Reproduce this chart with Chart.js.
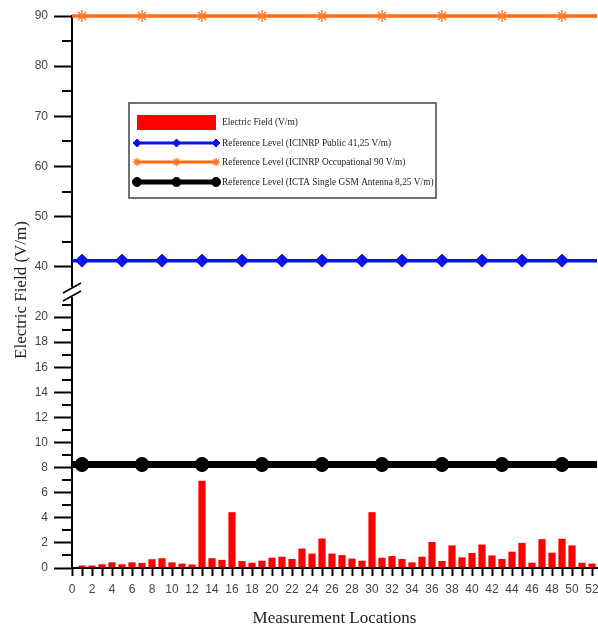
<!DOCTYPE html>
<html>
<head>
<meta charset="utf-8">
<script src="https://cdn.jsdelivr.net/npm/chart.js@4.4.0/dist/chart.umd.min.js"></script>
<style>
html, body { margin: 0; padding: 0; background: #fff; }
canvas { display: block; }
</style>
</head>
<body>
<canvas id="myChart" width="598" height="633"></canvas>
<script>
// measurement locations (x) and measured field strength (V/m)
var locations = [1, 2, 3, 4, 5, 6, 7, 8, 9, 10, 11, 12, 13, 14, 15, 16, 17, 18, 19, 20, 21, 22, 23, 24, 25, 26,
    27, 28, 29, 30, 31, 32, 33, 34, 35, 36, 37, 38, 39, 40, 41, 42, 43, 44, 45, 46, 47, 48, 49, 50, 51, 52];
var fieldValues = [0.2, 0.2, 0.3, 0.45, 0.3, 0.45, 0.4, 0.7, 0.78, 0.45, 0.35, 0.28, 6.95, 0.78, 0.65, 4.45,
    0.55, 0.42, 0.58, 0.82, 0.9, 0.72, 1.55, 1.15, 2.35, 1.15, 1.03, 0.75, 0.58, 4.45, 0.82, 0.95, 0.72, 0.45,
    0.9, 2.07, 0.56, 1.8, 0.85, 1.2, 1.87, 1.0, 0.72, 1.3, 2.0, 0.42, 2.3, 1.22, 2.33, 1.8, 0.42, 0.35];

// reference levels
var publicLevel = 41.25;
var occupationalLevel = 90;
var gsmLevel = 8.25;

// where the symbols sit on each reference line
var publicMarks = [1, 5, 9, 13, 17, 21, 25, 29, 33, 37, 41, 45, 49];
var occupationalMarks = [1, 7, 13, 19, 25, 31, 37, 43, 49];
var gsmMarks = [1, 7, 13, 19, 25, 31, 37, 43, 49];

// axis ranges (broken y axis: lower and upper part)
var xMin = 0, xMax = 52.5;
var lowerMin = 0, lowerMax = 22, lowerLastLabel = 20;
var upperMin = 35, upperMax = 90;
var lowerMinorTicks = [1, 3, 5, 7, 9, 11, 13, 15, 17, 19, 21];
var upperMinorTicks = [45, 55, 65, 75, 85];

var labelFont = { family: "'Liberation Sans', Arial, sans-serif", size: 12 };
var serif = "'Liberation Serif', 'Times New Roman', serif";

function levelLine(level, marks) {
    var pts = [{ x: xMin, y: level }];
    marks.forEach(function (m) { pts.push({ x: m, y: level }); });
    pts.push({ x: xMax, y: level });
    return pts;
}
function markRadius(marks, r) {
    return function (c) {
        return (c.raw && marks.indexOf(c.raw.x) >= 0) ? r : 0;
    };
}

var barData = locations.map(function (x, i) { return { x: x, y: fieldValues[i] }; });

// legend box drawn inside the plot, like the original figure
var boxLegend = {
    id: 'boxLegend',
    afterDraw: function (chart) {
        var c = chart.ctx;
        var ds = chart.data.datasets;
        var left = 129, top = 103, w = 307, h = 95;
        c.save();
        c.fillStyle = '#fff';
        c.fillRect(left, top, w, h);
        c.strokeStyle = '#444';
        c.lineWidth = 1.5;
        c.strokeRect(left, top, w, h);
        var rows = [122, 143, 162, 182];
        var x0 = 137, x1 = 216;
        ds.forEach(function (d, i) {
            var y = rows[i];
            if (d.type === 'line') {
                c.strokeStyle = d.borderColor;
                c.lineWidth = d.legendWidth;
                c.beginPath();
                c.moveTo(x0, y);
                c.lineTo(x1, y);
                c.stroke();
                c.fillStyle = d.pointBackgroundColor;
                c.strokeStyle = d.pointBorderColor;
                c.lineWidth = d.pointBorderWidth;
                [x0, (x0 + x1) / 2, x1].forEach(function (px) {
                    Chart.helpers.drawPoint(c, {
                        pointStyle: d.pointStyle,
                        radius: d.legendRadius,
                        borderWidth: d.pointBorderWidth,
                        rotation: 0
                    }, px, y);
                });
            } else {
                c.fillStyle = d.backgroundColor;
                c.fillRect(x0, y - 7, x1 - x0, 15);
            }
            c.fillStyle = '#222';
            c.font = '10.5px ' + serif;
            c.textBaseline = 'middle';
            c.textAlign = 'left';
            c.save();
            c.translate(222, y);
            c.scale(0.89, 1);
            c.fillText(d.label, 0, 0);
            c.restore();
        });
        c.restore();
    }
};

// minor ticks, axis break and y title
var axisExtras = {
    id: 'axisExtras',
    afterDraw: function (chart) {
        var c = chart.ctx;
        var lo = chart.scales.y, hi = chart.scales.y2;
        var ax = chart.chartArea.left;
        c.save();
        c.strokeStyle = '#000';
        c.lineWidth = 2;
        function minor(scale, vals) {
            vals.forEach(function (v) {
                var py = Math.round(scale.getPixelForValue(v));
                c.beginPath();
                c.moveTo(ax - 10, py);
                c.lineTo(ax, py);
                c.stroke();
            });
        }
        minor(lo, lowerMinorTicks);
        minor(hi, upperMinorTicks);

        // break mark
        var by = lo.top;
        c.fillStyle = '#fff';
        c.fillRect(ax - 4, by - 5, 8, 10);
        c.lineWidth = 1.6;
        c.beginPath();
        c.moveTo(ax - 9, by + 1);
        c.lineTo(ax + 9, by - 9);
        c.moveTo(ax - 9, by + 9);
        c.lineTo(ax + 9, by - 1);
        c.stroke();

        // y title
        c.fillStyle = '#222';
        c.font = '17px ' + serif;
        c.textAlign = 'center';
        c.textBaseline = 'middle';
        c.translate(22, 290);
        c.rotate(-Math.PI / 2);
        c.fillText('Electric Field (V/m)', 0, 0);
        c.restore();
    }
};

var ctxx = document.getElementById('myChart');
var myChartt = new Chart(ctxx, {
    type: 'bar',
    data: {
        datasets: [{
            type: 'bar',
            label: 'Electric Field (V/m)',
            data: barData,
            yAxisID: 'y',
            backgroundColor: '#ff0000',
            borderWidth: 0,
            barPercentage: 0.72,
            categoryPercentage: 1,
            order: 2
        }, {
            type: 'line',
            label: 'Reference Level (ICINRP Public 41,25 V/m)',
            data: levelLine(publicLevel, publicMarks),
            yAxisID: 'y2',
            borderColor: '#0a14e6',
            borderWidth: 3.5,
            legendWidth: 3,
            pointStyle: 'rectRot',
            pointRadius: markRadius(publicMarks, 6.5),
            legendRadius: 4,
            pointBackgroundColor: '#0a14e6',
            pointBorderColor: '#0a14e6',
            pointBorderWidth: 1,
            clip: false,
            order: 1
        }, {
            type: 'line',
            label: 'Reference Level (ICINRP Occupational 90 V/m)',
            data: levelLine(occupationalLevel, occupationalMarks),
            yAxisID: 'y2',
            borderColor: '#ff6a10',
            borderWidth: 3.5,
            legendWidth: 3,
            pointStyle: 'star',
            pointRadius: markRadius(occupationalMarks, 6),
            legendRadius: 4,
            pointBackgroundColor: '#ff6a10',
            pointBorderColor: '#ff7a28',
            pointBorderWidth: 1.5,
            clip: false,
            order: 1
        }, {
            type: 'line',
            label: 'Reference Level (ICTA Single GSM Antenna 8,25 V/m)',
            data: levelLine(gsmLevel, gsmMarks),
            yAxisID: 'y',
            borderColor: '#000',
            borderWidth: 7,
            legendWidth: 5,
            pointStyle: 'circle',
            pointRadius: markRadius(gsmMarks, 7),
            legendRadius: 4.5,
            pointBackgroundColor: '#000',
            pointBorderColor: '#000',
            pointBorderWidth: 1,
            clip: false,
            order: 1
        }]
    },
    options: {
        responsive: false,
        animation: false,
        layout: { padding: { top: 16, right: 1, left: 0, bottom: 0 } },
        plugins: {
            legend: { display: false },
            tooltip: { enabled: false }
        },
        scales: {
            x: {
                type: 'linear',
                min: xMin,
                max: xMax,
                offset: false,
                grid: { drawOnChartArea: false, offset: false, tickLength: 8, tickWidth: 2, tickColor: '#000' },
                border: { color: '#000', width: 2 },
                ticks: {
                    stepSize: 1,
                    autoSkip: false,
                    maxRotation: 0,
                    includeBounds: false,
                    padding: 6,
                    color: '#444',
                    font: labelFont,
                    callback: function (v) { return v % 2 === 0 ? v : ''; }
                },
                title: {
                    display: true,
                    text: 'Measurement Locations',
                    color: '#222',
                    font: { family: serif, size: 17 },
                    padding: { top: 4, bottom: 4 }
                },
                afterFit: function (s) { s.height = 65; s.paddingLeft = 0; s.paddingRight = 0; }
            },
            y: {
                type: 'linear',
                position: 'left',
                stack: 'field',
                stackWeight: 1,
                min: lowerMin,
                max: lowerMax,
                grid: { drawOnChartArea: false, tickLength: 18, tickWidth: 2, tickColor: '#000' },
                border: { color: '#000', width: 2 },
                ticks: { stepSize: 2, autoSkip: false, includeBounds: false, padding: 6, color: '#444', font: labelFont },
                afterBuildTicks: function (s) {
                    s.ticks = s.ticks.filter(function (t) { return t.value <= lowerLastLabel; });
                },
                afterFit: function (s) { s.width = 72; }
            },
            y2: {
                type: 'linear',
                position: 'left',
                stack: 'field',
                stackWeight: 1,
                min: upperMin,
                max: upperMax,
                grid: { drawOnChartArea: false, tickLength: 18, tickWidth: 2, tickColor: '#000' },
                border: { color: '#000', width: 2 },
                ticks: { stepSize: 10, autoSkip: false, includeBounds: false, padding: 6, color: '#444', font: labelFont },
                afterFit: function (s) { s.width = 72; }
            }
        }
    },
    plugins: [boxLegend, axisExtras]
});
</script>
</body>
</html>
